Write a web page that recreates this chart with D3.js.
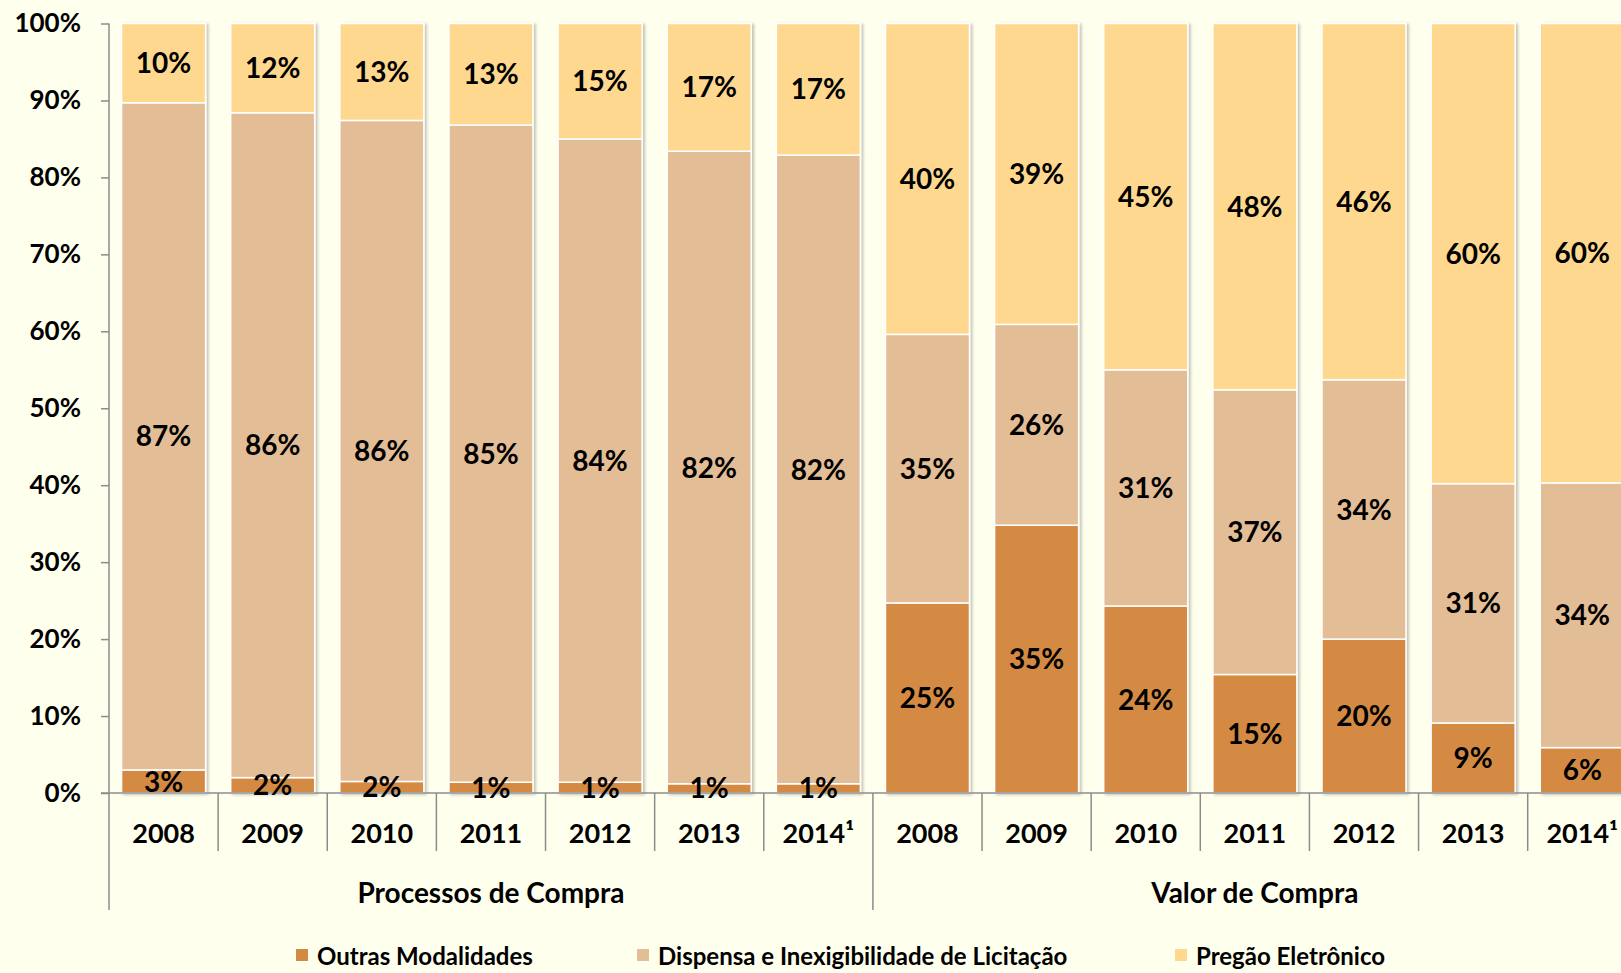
<!DOCTYPE html>
<html>
<head>
<meta charset="utf-8">
<script src="https://cdn.jsdelivr.net/npm/d3@7"></script>
<style>
  body { margin: 0; background: #FFFFEE; }
  svg { display: block; }
  text { font-family: Lato, "Open Sans", sans-serif; font-weight: bold; fill: #000; }
</style>
</head>
<body>
<div id="chart"></div>
<script>
var width = 1621;
var height = 973;

// data (percent of total)
let years = ['2008', '2009', '2010', '2011', '2012', '2013', '2014¹'];
let groups = ['Processos de Compra', 'Valor de Compra'];
let seriesNames = ['Outras Modalidades', 'Dispensa e Inexigibilidade de Licitação', 'Pregão Eletrônico'];
let seriesKeys = ['outras', 'dispensa', 'pregao'];
let colors = ['#D48A42', '#E3BD95', '#FED88F'];

let processosOutras = [3.0, 2.0, 1.5, 1.4, 1.4, 1.2, 1.2];
let processosDispensa = [86.7, 86.4, 85.9, 85.4, 83.6, 82.2, 81.7];
let processosPregao = [10.3, 11.6, 12.6, 13.2, 15.0, 16.6, 17.1];

let valorOutras = [24.7, 34.8, 24.3, 15.4, 20.0, 9.1, 5.9];
let valorDispensa = [34.9, 26.1, 30.7, 37.0, 33.7, 31.1, 34.4];
let valorPregao = [40.4, 39.1, 45.0, 47.6, 46.3, 59.8, 59.7];

let yTicks = [0, 10, 20, 30, 40, 50, 60, 70, 80, 90, 100];

let rows = [];
years.forEach((y, i) => rows.push({ key: 'p' + i, year: y, outras: processosOutras[i], dispensa: processosDispensa[i], pregao: processosPregao[i] }));
years.forEach((y, i) => rows.push({ key: 'v' + i, year: y, outras: valorOutras[i], dispensa: valorDispensa[i], pregao: valorPregao[i] }));

let svg = d3.select('#chart').append('svg')
    .attr('width', width)
    .attr('height', height);

let defs = svg.append('defs');
defs.append('filter')
    .attr('id', 'shadow')
    .attr('x', '-10%').attr('y', '-10%').attr('width', '130%').attr('height', '130%')
    .append('feDropShadow')
    .attr('dx', 2).attr('dy', 1)
    .attr('stdDeviation', 1.5)
    .attr('flood-color', '#000')
    .attr('flood-opacity', 0.25);

let axisX = 109;
let axisY0 = 793;
let step = 109.13;

let x = d3.scaleBand()
    .domain(rows.map(d => d.key))
    .range([axisX, axisX + step * rows.length])
    .paddingInner(0.23)
    .paddingOuter(0.115);

let y = d3.scaleLinear()
    .domain([0, 100])
    .range([axisY0, 23.5]);

let stacked = d3.stack().keys(seriesKeys)(rows);

// bars
let layers = svg.append('g').attr('filter', 'url(#shadow)');
layers.selectAll('g')
    .data(stacked)
    .enter()
    .append('g')
    .attr('fill', (d, i) => colors[i])
    .selectAll('rect')
    .data(d => d)
    .enter()
    .append('rect')
    .attr('x', d => x(d.data.key))
    .attr('y', d => y(d[1]))
    .attr('width', x.bandwidth())
    .attr('height', d => y(d[0]) - y(d[1]))
    .attr('stroke', '#fff')
    .attr('stroke-width', 1.5);

// axes
let axisColor = '#8c8c8c';
let yAxis = svg.append('g')
    .attr('transform', 'translate(' + axisX + ',0)')
    .call(d3.axisLeft(y).tickValues(yTicks).tickFormat(d => d + '%').tickSize(8).tickPadding(20));
yAxis.select('.domain').remove();
yAxis.selectAll('line').attr('stroke', axisColor).attr('stroke-width', 1.5);
yAxis.selectAll('text')
    .style('font-size', '26px')
    .style('font-family', 'Lato, sans-serif')
    .style('font-weight', 'bold')
    .attr('fill', '#000');

svg.append('line')
    .attr('x1', axisX).attr('x2', axisX)
    .attr('y1', y(100)).attr('y2', 910)
    .attr('stroke', axisColor).attr('stroke-width', 1.5);

svg.append('line')
    .attr('x1', axisX - 8).attr('x2', width + 20)
    .attr('y1', axisY0).attr('y2', axisY0)
    .attr('stroke', axisColor).attr('stroke-width', 1.5);

// category separators
let sepIdx = d3.range(1, rows.length + 1);
svg.selectAll('.sep')
    .data(sepIdx)
    .enter()
    .append('line')
    .attr('class', 'sep')
    .attr('x1', d => x.range()[0] + d * x.step())
    .attr('x2', d => x.range()[0] + d * x.step())
    .attr('y1', axisY0)
    .attr('y2', d => d % years.length == 0 ? 910 : 851)
    .attr('stroke', axisColor)
    .attr('stroke-width', 1.5);

// year labels
svg.selectAll('.year')
    .data(rows)
    .enter()
    .append('text')
    .attr('class', 'year')
    .attr('x', d => x(d.key) + x.bandwidth() / 2)
    .attr('y', 834)
    .attr('dy', '0.35em')
    .attr('text-anchor', 'middle')
    .style('font-size', '27px')
    .text(d => d.year);

// group labels
svg.selectAll('.group')
    .data(groups)
    .enter()
    .append('text')
    .attr('class', 'group')
    .attr('x', (d, i) => x.range()[0] + (i * years.length + years.length / 2) * x.step())
    .attr('y', 893)
    .attr('dy', '0.35em')
    .attr('text-anchor', 'middle')
    .style('font-size', '28px')
    .text(d => d);

// value labels
let labels = svg.append('g');
stacked.forEach(layer => {
    labels.selectAll(null)
        .data(layer)
        .enter()
        .append('text')
        .attr('x', d => x(d.data.key) + x.bandwidth() / 2)
        .attr('y', d => (y(d[0]) + y(d[1])) / 2)
        .attr('dy', '0.36em')
        .attr('text-anchor', 'middle')
        .style('font-size', '28px')
        .text(d => Math.round(d[1] - d[0]) + '%');
});

// legend
let legendX = [296, 637, 1175];
let legend = svg.selectAll('.leg')
    .data(seriesNames)
    .enter()
    .append('g')
    .attr('class', 'leg')
    .attr('transform', (d, i) => 'translate(' + legendX[i] + ',955)');
legend.append('rect')
    .attr('x', 0).attr('y', -6)
    .attr('width', 12).attr('height', 12)
    .attr('fill', (d, i) => colors[i]);
legend.append('text')
    .attr('x', 21)
    .attr('y', 1)
    .attr('dy', '0.36em')
    .style('font-size', '24px')
    .text(d => d);
</script>
</body>
</html>
